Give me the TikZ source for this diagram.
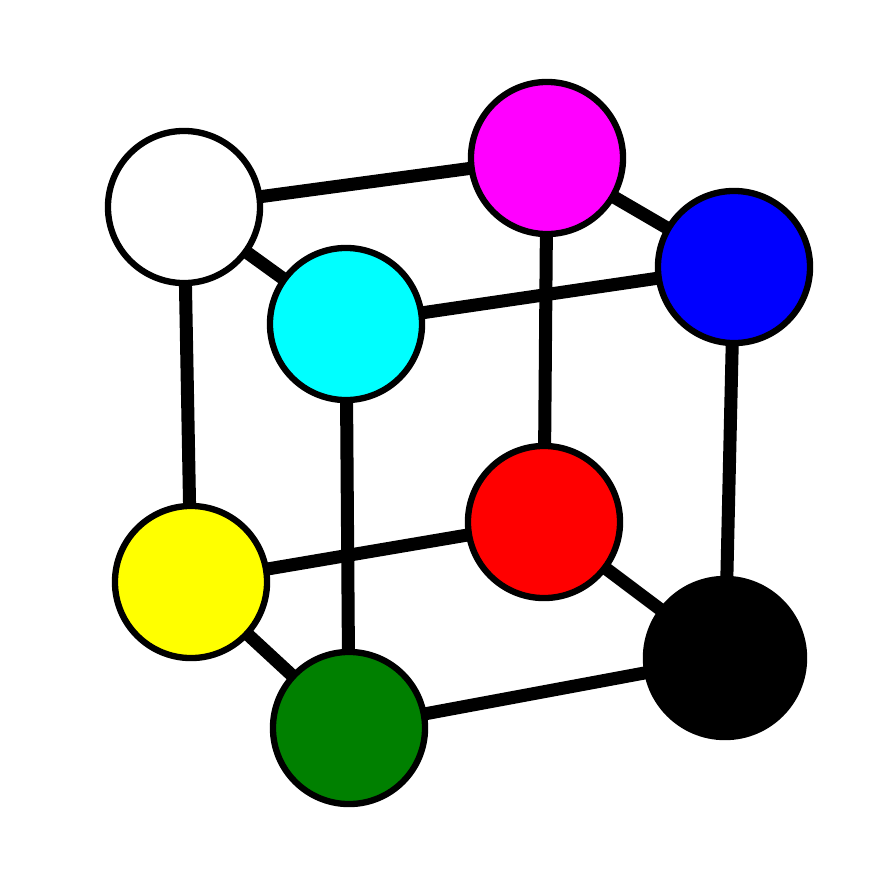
\documentclass[tikz,border=0pt]{standalone}
\definecolor{pmag}{RGB}{255,0,255}
\definecolor{pcyan}{RGB}{0,255,255}
\definecolor{pyel}{RGB}{255,255,0}
\definecolor{pred}{RGB}{255,0,0}
\definecolor{pblue}{RGB}{0,0,255}
\definecolor{pgreen}{RGB}{0,128,0}
\begin{document}
\begin{tikzpicture}[x=0.01cm,y=-0.01cm,
  ball/.style={circle,draw=black,line width=1.8pt,minimum size=1.52cm,inner sep=0pt},
  edge/.style={line width=3.7pt,black}]
\useasboundingbox (0,0) rectangle (884,884);
\coordinate (cw) at (184,207);
\coordinate (cm) at (547,158);
\coordinate (cb) at (734,267);
\coordinate (cc) at (346,324);
\coordinate (cy) at (191,582);
\coordinate (cr) at (544,522);
\coordinate (ck) at (725,658);
\coordinate (cg) at (349,728);
\draw[edge] (cw) -- (cm);
\draw[edge] (cw) -- (cc);
\draw[edge] (cw) -- (cy);
\draw[edge] (cm) -- (cb);
\draw[edge] (cm) -- (cr);
\draw[edge] (cc) -- (cb);
\draw[edge] (cc) -- (cg);
\draw[edge] (cb) -- (ck);
\draw[edge] (cy) -- (cr);
\draw[edge] (cy) -- (cg);
\draw[edge] (cr) -- (ck);
\draw[edge] (cg) -- (ck);
\node[ball,fill=white] (w) at (cw) {};
\node[ball,fill=pmag] (m) at (cm) {};
\node[ball,fill=pblue] (b) at (cb) {};
\node[ball,fill=pcyan] (c) at (cc) {};
\node[ball,fill=pyel] (y) at (cy) {};
\node[ball,fill=pred] (r) at (cr) {};
\node[ball,fill=black,minimum size=1.58cm] (k) at (ck) {};
\node[ball,fill=pgreen] (g) at (cg) {};
\end{tikzpicture}
\end{document}
